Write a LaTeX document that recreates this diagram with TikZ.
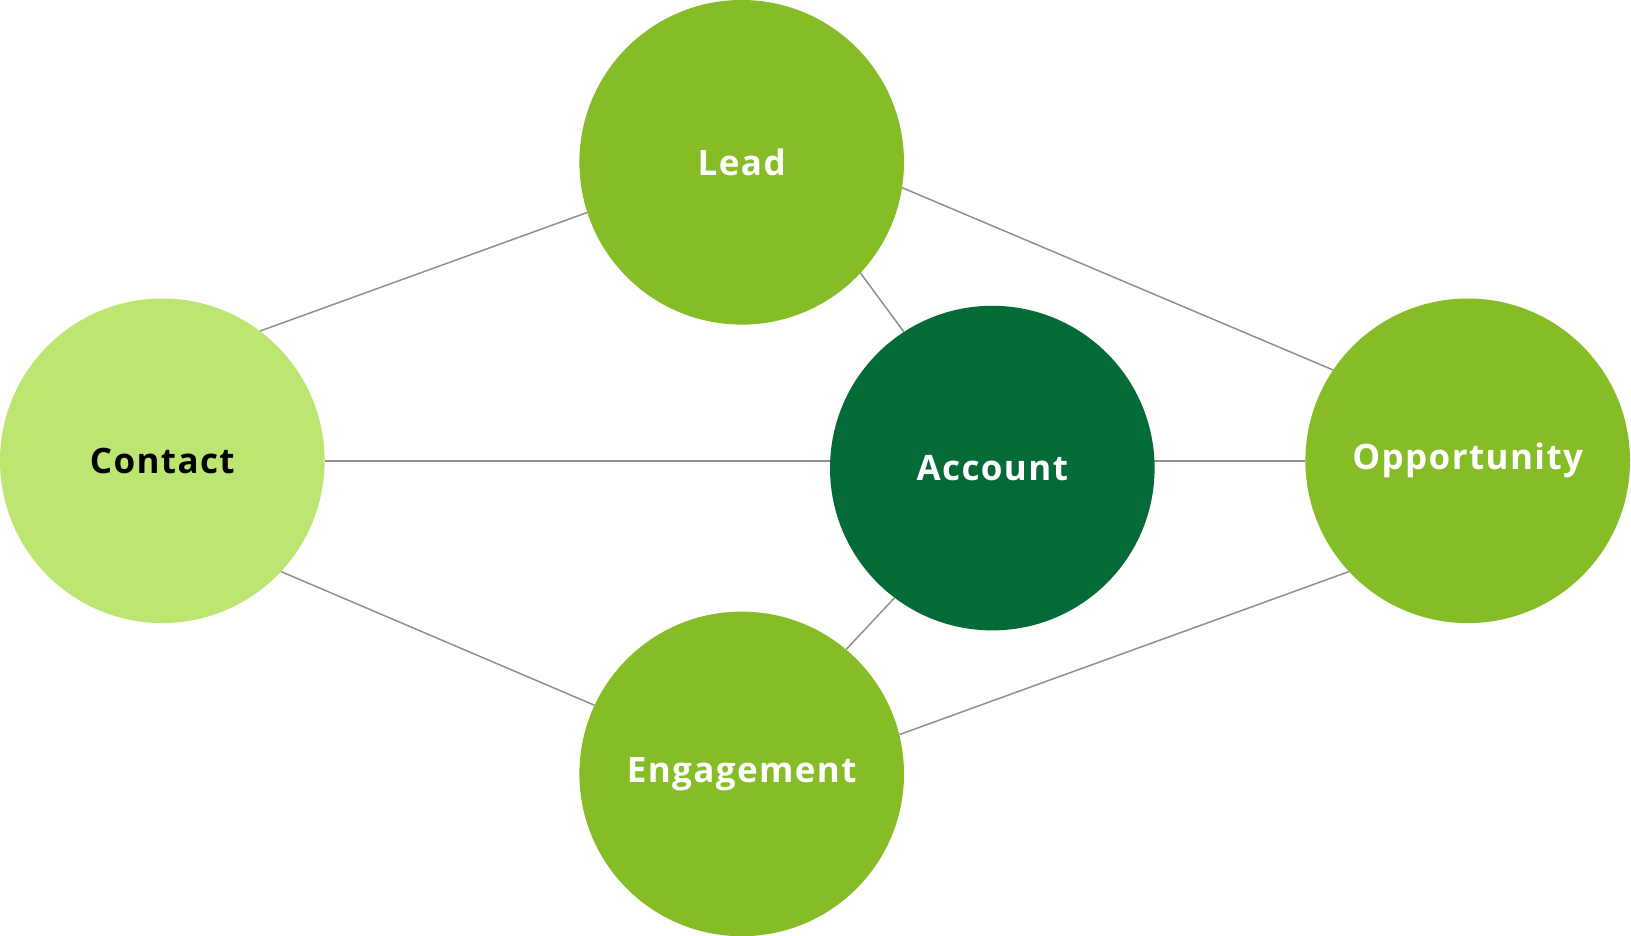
\documentclass[tikz,border=0pt]{standalone}
\usepackage{fontspec}
\setmainfont{Open Sans}[LetterSpace=4]
\definecolor{midgreen}{HTML}{86BC25}
\definecolor{lightgreen}{HTML}{BDE572}
\definecolor{darkgreen}{HTML}{046A38}
\definecolor{linegray}{HTML}{8F8F8F}
\pgfdeclarelayer{bg}
\pgfsetlayers{bg,main}
\begin{document}
\begin{tikzpicture}[x=1pt,y=-1pt,
  bubble/.style={circle, minimum size=324.6pt, inner sep=0pt, draw=none,
    font=\fontsize{35}{40}\selectfont\bfseries, text=white},
  link/.style={draw=linegray, line width=1.5pt}]
\useasboundingbox (0,0) rectangle (1631,936);
\node[bubble, fill=midgreen] (lead) at (741.7,162.3) {Lead};
\node[bubble, fill=lightgreen, text=black] (contact) at (162.3,460.8) {Contact};
\node[bubble, fill=darkgreen] (account) at (992.3,468.1) {Account};
\node[bubble, fill=midgreen] (opp) at (1467.7,460.8) {Opportunity};
\node[bubble, fill=midgreen] (eng) at (741.7,773.9) {Engagement};
\draw[link] (contact.53.4) -- (lead.198.3);
\draw[link] (lead.-9.2) -- (opp.146);
\draw[link] (contact.-43.7) -- (eng.155.4);
\draw[link] (eng.14.5) -- (opp.223.2);
\draw[link] (lead.-43.7) -- (account.123.8);
\draw[link] (eng.50.7) -- (account.233);
\begin{pgfonlayer}{bg}
\draw[link] (contact.east) -- (contact.east -| account.center);
\draw[link] (opp.west) -- (opp.west -| account.center);
\end{pgfonlayer}
\end{tikzpicture}
\end{document}
